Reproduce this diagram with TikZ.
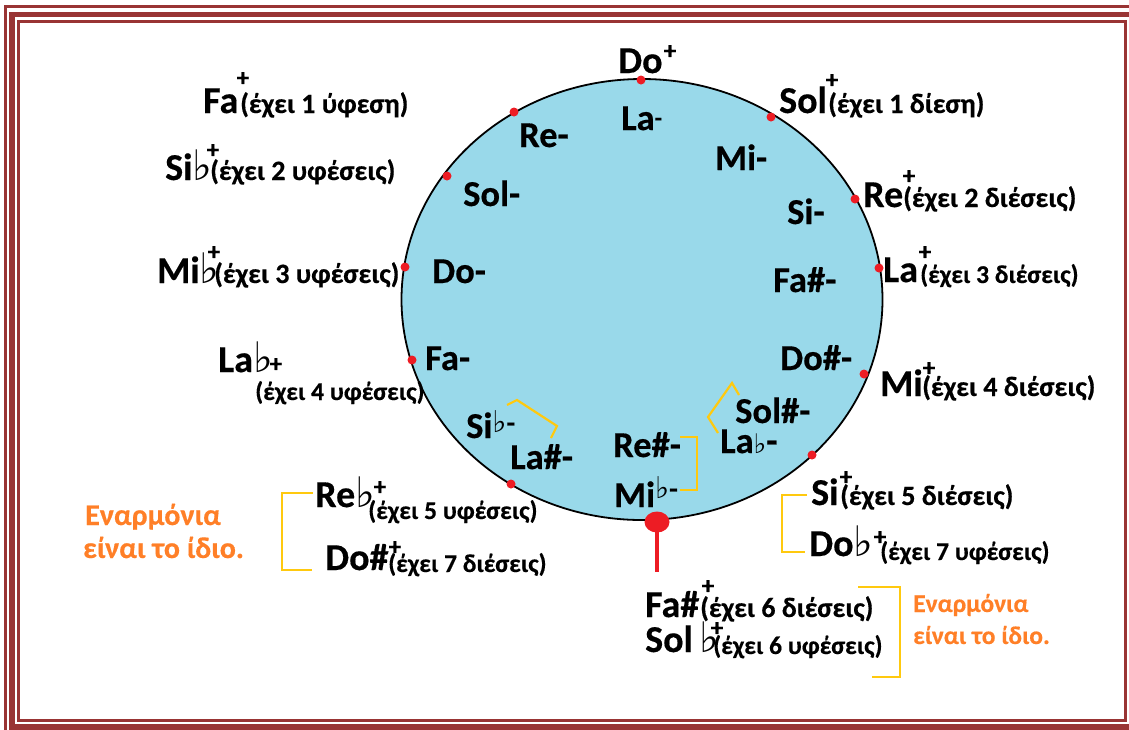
\documentclass[tikz,border=0pt]{standalone}
\usepackage{fontspec}
\usepackage{graphicx}
\setmainfont{Carlito}[BoldFeatures={FakeBold=0.4}]
\newfontfamily\dv{DejaVu Sans}
\usetikzlibrary{shapes.geometric}
\definecolor{frame}{RGB}{153,52,52}
\definecolor{circ}{RGB}{153,217,234}
\definecolor{myred}{RGB}{237,28,36}
\definecolor{myyellow}{RGB}{255,201,14}
\definecolor{myorange}{RGB}{255,127,39}
\newcommand\fl[1]{{\dv\fontsize{#1}{#1}\selectfont ♭}}
\tikzset{
 maj/.style={inner sep=0, anchor=base west, font=\bfseries\fontsize{38}{38}\selectfont},
 mnr/.style={inner sep=0, anchor=base west, font=\bfseries\fontsize{36.5}{36.5}\selectfont},
 parn/.style={inner sep=0, anchor=base west, font=\bfseries\fontsize{28}{28}\selectfont},
 parns/.style={inner sep=0, anchor=base west, font=\bfseries\fontsize{25.6}{25.6}\selectfont},
 plussign/.style={inner sep=0, font=\bfseries\fontsize{25}{25}\selectfont},
 rdot/.style={circle, fill=myred, inner sep=0, minimum size=9pt},
 brk/.style={draw=myyellow, line width=2.2pt},
 orng/.style={inner sep=0, anchor=base west, text=myorange, font=\bfseries\fontsize{25.5}{25.5}\selectfont},
 orngl/.style={orng, font=\bfseries\fontsize{30}{30}\selectfont},
 framel/.style={draw=frame},
}
\begin{document}
\begin{tikzpicture}[x=1pt,y=-1pt]
\useasboundingbox (0,0) rectangle (1129,729);
\begin{scope}
\clip (0,0) rectangle (1129,729);
\draw[framel, line width=2.5pt] (5.5,6.5) rectangle (1140,740);
\draw[framel, line width=5.5pt] (12,14.5) rectangle (1133,727);
\draw[framel, line width=3pt] (18.5,21) rectangle (1125.5,720.5);
\end{scope}
% circle
\node[ellipse, draw=black, line width=1.8pt, fill=circ, minimum width=481pt, minimum height=441pt, inner sep=0] (circle) at (642,299.5) {};
% red dots
\node[rdot] (dDo) at (641,80) {};
\node[rdot] (dSol) at (771,117) {};
\node[rdot] (dRe) at (855,199) {};
\node[rdot] (dLa) at (879,268) {};
\node[rdot] (dMi) at (864,374) {};
\node[rdot] (dSi) at (812,455) {};
\node[rdot] (dReb) at (511,484) {};
\node[rdot] (dLab) at (412,360) {};
\node[rdot] (dMib) at (405,267) {};
\node[rdot] (dSib) at (447,176) {};
\node[rdot] (dFa) at (514,112) {};
\coordinate (stemend) at (657,572);
\draw[myred, line width=4pt] (657,522) -- (stemend);
\node[ellipse, fill=myred, minimum width=25pt, minimum height=21pt, inner sep=0] (big) at (657,522) {};
% major keys
\node[maj] (Do) at (618,73) {Do};
\node[plussign] (pDo) at (670,52) {+};
\node[maj] (Sol) at (779,113) {Sol};
\node[parn] (tSol) at (828,113) {(έχει 1 δίεση)};
\node[plussign] (pSol) at (832,81) {+};
\node[maj] (Re) at (863,207) {Re};
\node[parn] (tRe) at (903,207) {(έχει 2 διέσεις)};
\node[plussign] (pRe) at (909,177) {+};
\node[maj] (La) at (883,282) {La};
\node[parns] (tLa) at (920,283) {(έχει 3 διέσεις)};
\node[plussign] (pLa) at (925,253) {+};
\node[maj] (Mi) at (880,396) {Mi};
\node[parn] (tMi) at (922,396) {(έχει 4 διέσεις)};
\node[plussign] (pMi) at (929,369) {+};
\node[maj] (Si) at (811,505) {Si};
\node[parn] (tSi) at (840,505) {(έχει 5 διέσεις)};
\node[plussign] (pSi) at (846,478) {+};
\node[maj] (Dob) at (809,556) {Do\fl{42}};
\node[parns] (tDob) at (880,560) {(έχει 7 υφέσεις)};
\node[plussign] (pDob) at (880,538) {+};
\node[maj] (Fas) at (645,617) {Fa\#};
\node[parn] (tFas) at (700,617) {(έχει 6 διέσεις)};
\node[plussign] (pFas) at (708,587) {+};
\node[maj] (Solb) at (645,652) {Sol\,\fl{42}};
\node[parns] (tSolb) at (713,654) {(έχει 6 υφέσεις)};
\node[plussign] (pSolb) at (717,629) {+};
\node[maj] (Fa) at (203,113) {Fa};
\node[parn] (tFa) at (240,113) {(έχει 1 ύφεση)};
\node[plussign] (pFa) at (243,79) {+};
\node[maj] (Sib) at (165,180) {Si\fl{42}};
\node[parn] (tSib) at (210,180) {(έχει 2 υφέσεις)};
\node[plussign] (pSib) at (213,151) {+};
\node[maj] (Mib) at (157,283) {Mi\fl{42}};
\node[parn] (tMib) at (214,283) {(έχει 3 υφέσεις)};
\node[plussign] (pMib) at (214,253) {+};
\node[maj] (Lab) at (218,372) {La\fl{42}};
\node[parns] (tLab) at (255,400) {(έχει 4 υφέσεις)};
\node[plussign] (pLab) at (276,365) {+};
\node[maj] (Reb) at (315,507) {Re\fl{42}};
\node[parns] (tReb) at (368,519) {(έχει 5 υφέσεις)};
\node[plussign] (pReb) at (380,488) {+};
\node[maj] (Dos) at (325,570) {Do\#};
\node[parns] (tDos) at (388,572) {(έχει 7 διέσεις)};
\node[plussign] (pDos) at (395,548) {+};
% minor keys
\node[mnr] (la) at (621,130) {La\raisebox{4pt}{\fontsize{24}{24}\selectfont -}};
\node[mnr] (re) at (519,147) {Re-};
\node[mnr] (mi) at (715,170) {Mi-};
\node[mnr] (sol) at (463,206) {Sol-};
\node[mnr] (si) at (787,224) {Si-};
\node[mnr] (do) at (432,283) {Do-};
\node[mnr] (fas) at (773,292) {Fa\#-};
\node[mnr] (fa) at (425,370) {Fa-};
\node[mnr] (dos) at (780,370) {Do\#-};
\node[mnr] (sols) at (735,423) {Sol\#-};
\node[mnr] (lab) at (720,453) {La\fl{27}-};
\node[mnr] (sib) at (466,438) {Si\raisebox{6pt}{\fl{30}\fontsize{28}{28}\selectfont-}};
\node[mnr] (las) at (510,469) {La\#-};
\node[mnr] (res) at (613,457) {Re\#-};
\node[mnr] (mib) at (614,507) {Mi\raisebox{9pt}{\fl{30}\fontsize{28}{28}\selectfont-}};
% brackets
\draw[brk] (507,405) -- (517,400) -- (557,426) -- (551,438);
\draw[brk] (680,437) -- (697,437) -- (697,490) -- (680,490);
\draw[brk] (739,395) -- (732,383) -- (708,417) -- (718,433);
\draw[brk] (313,493) -- (282,493) -- (282,570) -- (312,570);
\draw[brk] (807,495) -- (782,495) -- (782,552) -- (805,552);
\draw[brk] (858,587) -- (900,587) -- (900,677) -- (872,677);
% orange notes
\node[orngl] (e1) at (85,525) {Εναρμόνια};
\node[orngl] (e2) at (83,558) {είναι το ίδιο.};
\node[orng] (e3) at (913,612) {Εναρμόνια};
\node[orng] (e4) at (913,644) {είναι το ίδιο.};
\end{tikzpicture}
\end{document}
